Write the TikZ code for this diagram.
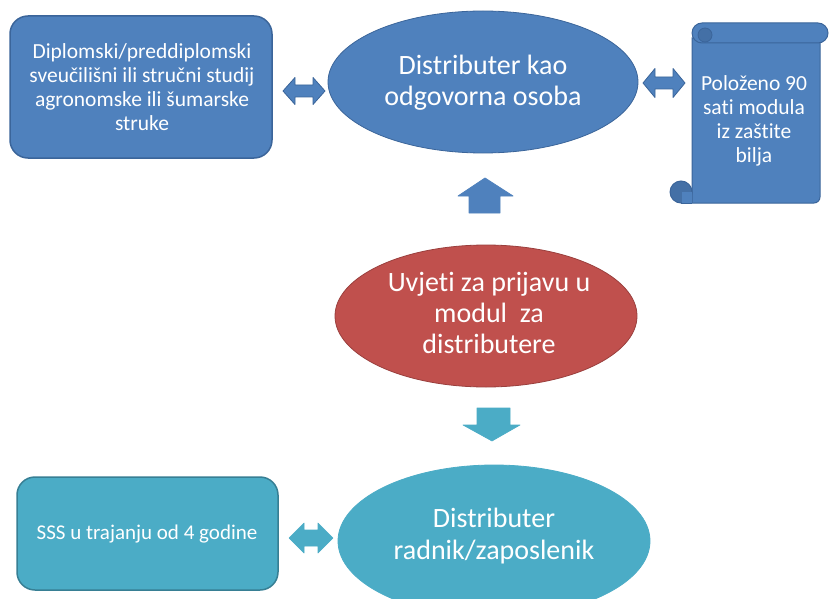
\documentclass[tikz,border=0pt]{standalone}
\usepackage{fontspec}
\setmainfont[Ligatures=NoCommon]{Carlito}
\usetikzlibrary{shapes.geometric}
\definecolor{bfill}{HTML}{4F81BD}
\definecolor{bdraw}{HTML}{3B659A}
\definecolor{bdark}{HTML}{4470A6}
\definecolor{tfill}{HTML}{4BACC6}
\definecolor{tdraw}{HTML}{377F94}
\definecolor{rfill}{HTML}{C0504D}
\definecolor{rdraw}{HTML}{9A3F3D}
\newcommand\dblarrow[7]{%
  \filldraw[#7] ({#1-#3},{#2}) -- ({#1-#3+#5},{#2+#4}) -- ({#1-#3+#5},{#2+#6}) --
    ({#1+#3-#5},{#2+#6}) -- ({#1+#3-#5},{#2+#4}) -- ({#1+#3},{#2}) --
    ({#1+#3-#5},{#2-#4}) -- ({#1+#3-#5},{#2-#6}) -- ({#1-#3+#5},{#2-#6}) --
    ({#1-#3+#5},{#2-#4}) -- cycle;}
\begin{document}
\begin{tikzpicture}[x=1pt,y=1pt,
  lbl/.style={text=white,align=center,font=\fontsize{#1}{1.12\dimexpr#1pt\relax}\selectfont,inner sep=0pt},
  bbox/.style={rounded corners=18pt,line width=1.5pt},
  ell/.style={ellipse,line width=0.8pt,inner sep=0pt},
  barrow/.style={fill=bfill,draw=bdraw,line width=0.8pt,line join=round},
  tarrow/.style={fill=tfill,draw=tfill,line width=0.6pt,line join=round}]
\useasboundingbox (0,0) rectangle (829,-599);
\fill[white] (0,0) rectangle (829,-599);
% top left box
\node[bbox,fill=bfill,draw=bdraw,minimum width=262pt,minimum height=142pt] (dip) at (141,-87) {};
\node[lbl=21.5] (diptxt) at (142,-87) {Diplomski/preddiplomski\\sveučilišni ili stručni studij\\agronomske ili šumarske\\struke};
% top ellipse
\node[ell,fill=bfill,draw=bdraw,minimum width=310pt,minimum height=142pt] (odg) at (483,-82) {};
\node[lbl=28] (odgtxt) at (483,-83) {Distributer kao\\odgovorna osoba};
% scroll
\filldraw[fill=bfill,draw=bdraw,line width=1pt] (692,-38) -- (692,-203) [rounded corners=6pt] -- (820,-203) -- (820,-120) [sharp corners] -- (820,-38) -- cycle;
\filldraw[fill=bdark,draw=bdraw,line width=1pt] (681,-192) circle[radius=11];
\fill[bfill] (681.5,-192) rectangle (691.5,-202.5);
\draw[bdraw,line width=1pt] (681,-203) -- (692,-203);
\filldraw[fill=bfill,draw=bdraw,line width=1pt,rounded corners=10pt] (692,-23) rectangle (828,-43);
\filldraw[fill=bdark,draw=bdraw,line width=0.8pt] (705,-35) circle[radius=7];
\node[lbl=21.5] (pol) at (754,-121) {Položeno 90\\sati modula\\iz zaštite\\bilja};
% side arrows top
\dblarrow{304}{-91}{21}{13.5}{12}{6}{barrow}
\dblarrow{664}{-83}{21}{14.5}{12}{6}{barrow}
% up arrow
\filldraw[barrow,draw=bfill] (485,-178) -- (513,-196) -- (500,-196) -- (500,-213) -- (469,-213) -- (469,-196) -- (458,-196) -- cycle;
% red ellipse
\node[ell,fill=rfill,draw=rdraw,minimum width=302pt,minimum height=142pt] (uvj) at (486,-316) {};
\node[lbl=28] (uvjtxt) at (489,-313) {Uvjeti za prijavu u\\modul\ \ za\\distributere};
% down arrow
\filldraw[tarrow] (477,-408) -- (510,-408) -- (510,-425) -- (520,-425) -- (492,-441) -- (463,-425) -- (477,-425) -- cycle;
% bottom box
\node[bbox,fill=tfill,draw=tdraw,minimum width=261pt,minimum height=113pt] (sss) at (147.5,-533.5) {};
\node[lbl=21] (ssstxt) at (147,-534) {SSS u trajanju od 4 godine};
% bottom arrow
\dblarrow{311}{-538}{22}{15}{15}{8}{tarrow}
% bottom ellipse
\node[ell,fill=tfill,draw=tfill,minimum width=312pt,minimum height=152pt] (rad) at (494,-541) {};
\node[lbl=28] (radtxt) at (494,-536) {Distributer\\radnik/zaposlenik};
\end{tikzpicture}
\end{document}
